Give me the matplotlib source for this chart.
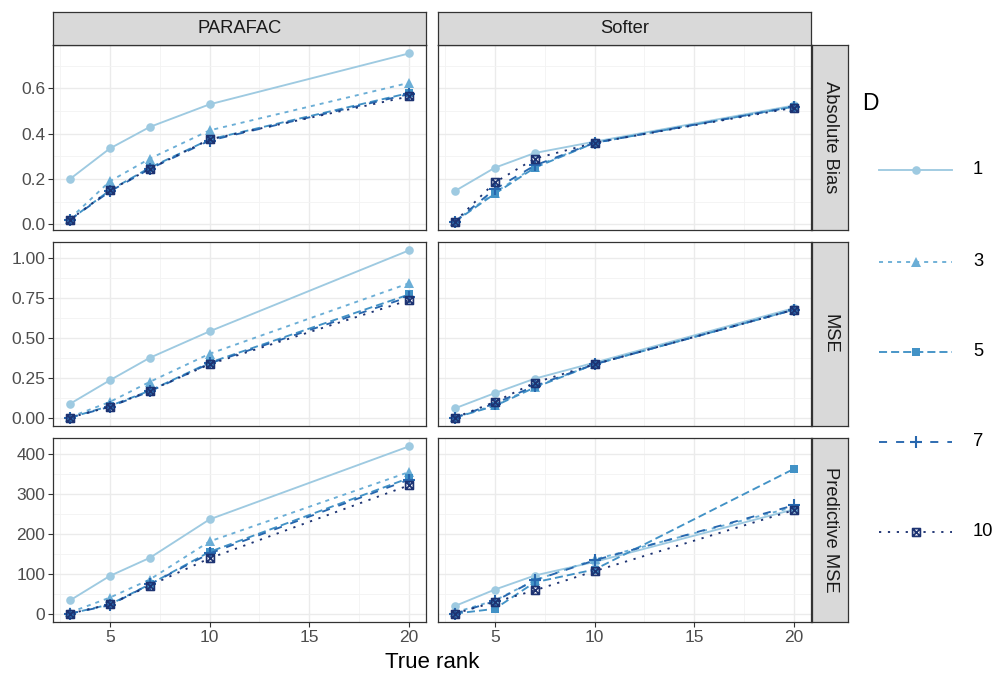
import matplotlib
matplotlib.use("Agg")
import matplotlib.pyplot as plt
from matplotlib.path import Path
from matplotlib.lines import Line2D
import numpy as np

plt.rcParams['font.family'] = ['Liberation Sans', 'DejaVu Sans']
plt.rcParams['lines.scale_dashes'] = False

# ---------------- data ----------------
ranks = [3, 5, 7, 10, 20]
D_levels = ['1', '3', '5', '7', '10']
methods = ['PARAFAC', 'Softer']
metrics = ['Absolute Bias', 'MSE', 'Predictive MSE']

bias_parafac = [[0.20, 0.335, 0.43, 0.53, 0.755],
                [0.025, 0.19, 0.29, 0.415, 0.625],
                [0.02, 0.15, 0.25, 0.375, 0.58],
                [0.02, 0.145, 0.245, 0.37, 0.575],
                [0.02, 0.15, 0.245, 0.375, 0.565]]
bias_softer = [[0.147, 0.25, 0.315, 0.365, 0.525],
               [0.015, 0.14, 0.255, 0.36, 0.52],
               [0.012, 0.135, 0.25, 0.36, 0.52],
               [0.012, 0.155, 0.26, 0.36, 0.52],
               [0.012, 0.185, 0.29, 0.36, 0.515]]
mse_parafac = [[0.088, 0.235, 0.375, 0.54, 1.045],
               [0.005, 0.10, 0.225, 0.40, 0.84],
               [0.002, 0.075, 0.17, 0.345, 0.77],
               [0.002, 0.07, 0.165, 0.34, 0.755],
               [0.002, 0.07, 0.17, 0.335, 0.735]]
mse_softer = [[0.06, 0.155, 0.245, 0.345, 0.685],
              [0.003, 0.08, 0.195, 0.335, 0.675],
              [0.002, 0.075, 0.19, 0.335, 0.675],
              [0.002, 0.09, 0.20, 0.335, 0.675],
              [0.002, 0.10, 0.22, 0.335, 0.675]]
pmse_parafac = [[35, 96, 141, 237, 419],
                [5, 42, 87, 182, 355],
                [2, 25, 75, 156, 340],
                [2, 23, 75, 152, 336],
                [2, 25, 72, 140, 322]]
pmse_softer = [[21, 62, 97, 131, 262],
               [5, 35, 85, 137, 268],
               [2, 14, 80, 112, 363],
               [2, 33, 85, 135, 272],
               [2, 31, 60, 108, 260]]

panel_data = [[bias_parafac, bias_softer],
              [mse_parafac, mse_softer],
              [pmse_parafac, pmse_softer]]
y_major = [[0, 0.2, 0.4, 0.6], [0, 0.25, 0.5, 0.75, 1.0], [0, 100, 200, 300, 400]]
y_labels = [['0.0', '0.2', '0.4', '0.6'], ['0.00', '0.25', '0.50', '0.75', '1.00'],
            ['0', '100', '200', '300', '400']]
x_major = [5, 10, 15, 20]

# ---------------- styles ----------------
colors = ['#9ECAE1', '#6BAED6', '#4292C6', '#2767AE', '#1D3372']
dashes = [None, (2.9, 3.6), (5.8, 2.9), (5.8, 6.5), (1.6, 4.8)]
sqx = Path([(-1, -1), (1, -1), (1, 1), (-1, 1), (-1, -1), (-1, -1), (1, 1), (-1, 1), (1, -1)],
           [Path.MOVETO, Path.LINETO, Path.LINETO, Path.LINETO, Path.CLOSEPOLY,
            Path.MOVETO, Path.LINETO, Path.MOVETO, Path.LINETO])
markers = ['o', '^', 's', '+', sqx]
msizes = [6.2, 7.0, 5.8, 8.0, 5.6]
LW = 1.35

W, H = 994, 677
fig = plt.figure(figsize=(W / 100, H / 100), dpi=100)


def rect(x0, y0, x1, y1):
    return [x0 / W, 1 - y1 / H, (x1 - x0) / W, (y1 - y0) / H]


def style_line(line, i):
    if dashes[i] is not None:
        line.set_dashes(dashes[i])
    line.set_dash_capstyle('butt')
    line.set_marker(markers[i])
    line.set_markersize(msizes[i])
    if i == 3:
        line.set_markeredgewidth(1.5)
    elif i == 4:
        line.set_markerfacecolor('none')
        line.set_markeredgewidth(1.25)
    else:
        line.set_markeredgewidth(0)


cols_x = [(53, 426), (438, 811)]
rows_y = [(45, 230), (242, 426), (438, 622)]
border = '#333333'

axes = [[None, None] for _ in range(3)]
for r in range(3):
    for c in range(2):
        ax = fig.add_axes(rect(cols_x[c][0], rows_y[r][0], cols_x[c][1], rows_y[r][1]))
        axes[r][c] = ax
        data = panel_data[r][c]
        for i in range(5):
            ln, = ax.plot(ranks, data[i], color=colors[i], lw=LW, zorder=3 + i)
            style_line(ln, i)
        ax.set_xlim(2.15, 20.85)
        ax.set_xticks(x_major)
        ax.set_xticks([2.5, 7.5, 12.5, 17.5], minor=True)
        yt = y_major[r]
        ax.set_yticks(yt)
        step = yt[1] - yt[0]
        ax.set_yticks([v + step / 2 for v in [yt[0] - step] + yt], minor=True)
        ax.grid(True, which='major', color='#EBEBEB', lw=1.0, zorder=0)
        ax.grid(True, which='minor', color='#F3F3F3', lw=0.6, zorder=0)
        ax.set_axisbelow(True)
        for s in ax.spines.values():
            s.set_color(border)
            s.set_linewidth(0.9)
        ax.tick_params(which='minor', length=0)
        ax.tick_params(which='major', color=border, length=3.5, width=0.8,
                       labelsize=12.5, labelcolor='#4D4D4D', pad=2)
        if c == 0:
            ax.set_yticklabels(y_labels[r])
        else:
            ax.tick_params(axis='y', length=0, labelleft=False)
        if r == 2:
            ax.set_xticklabels([str(v) for v in x_major])
        else:
            ax.tick_params(axis='x', length=0, labelbottom=False)

# shared y limits per row with 5% expansion
for r in range(3):
    vals = np.array(panel_data[r][0] + panel_data[r][1], dtype=float)
    lo, hi = vals.min(), vals.max()
    pad = (hi - lo) * 0.05
    for c in range(2):
        axes[r][c].set_ylim(lo - pad, hi + pad)


def strip(x0, y0, x1, y1, text, rot):
    sa = fig.add_axes(rect(x0, y0, x1, y1))
    sa.set_facecolor('#D9D9D9')
    sa.set_xticks([])
    sa.set_yticks([])
    for s in sa.spines.values():
        s.set_color(border)
        s.set_linewidth(0.9)
    sa.text(0.5, 0.5, text, transform=sa.transAxes, ha='center', va='center',
            rotation=rot, fontsize=13.2, color='#1A1A1A')


for c in range(2):
    strip(cols_x[c][0], 12, cols_x[c][1], 45, methods[c], 0)
for r in range(3):
    strip(812, rows_y[r][0], 848, rows_y[r][1], metrics[r], 270)

fig.text((cols_x[0][0] + cols_x[1][1]) / 2 / W, 1 - 663 / H, 'True rank',
         ha='center', va='center', fontsize=16, color='black')

# ---------------- legend ----------------
lax = fig.add_axes([0, 0, 1, 1], facecolor='none')
lax.set_xlim(0, W)
lax.set_ylim(H, 0)
lax.axis('off')
lax.text(862, 103, 'D', ha='left', va='center', fontsize=16.5, color='black')
leg_y = [170, 262, 352, 442, 532]
for i in range(5):
    ln, = lax.plot([879, 952], [leg_y[i], leg_y[i]], color=colors[i], lw=LW)
    if dashes[i] is not None:
        ln.set_dashes(dashes[i])
    ln.set_dash_capstyle('butt')
    mk = Line2D([915.5], [leg_y[i]], color=colors[i], lw=0)
    style_line(mk, i)
    lax.add_line(mk)
    lax.text(973, leg_y[i], D_levels[i], ha='left', va='center', fontsize=13.2, color='black')

fig.savefig('out.png', dpi=100)
